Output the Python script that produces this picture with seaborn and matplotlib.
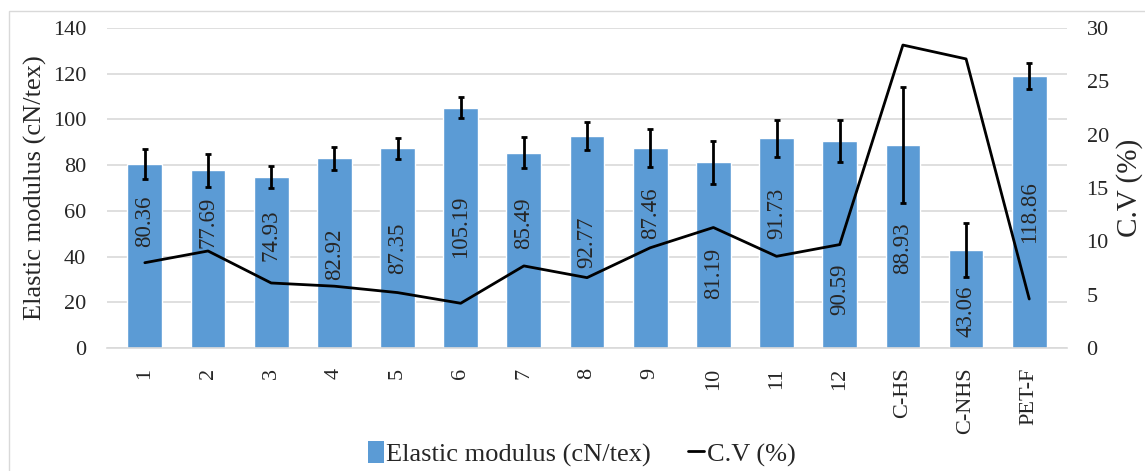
import numpy as np
import pandas as pd
import matplotlib
matplotlib.use("Agg")
import matplotlib.pyplot as plt
import seaborn as sns
from matplotlib.patches import Patch, Rectangle
from matplotlib.lines import Line2D

# -------------------------
# Data
# -------------------------
samples = ["1", "2", "3", "4", "5", "6", "7", "8", "9", "10", "11", "12",
           "C-HS", "C-NHS", "PET-F"]
modulus = [80.36, 77.69, 74.93, 82.92, 87.35, 105.19, 85.49, 92.77, 87.46,
           81.19, 91.73, 90.59, 88.93, 43.06, 118.86]
modulus_err = [6.5, 7.3, 4.8, 5.0, 4.7, 4.6, 6.9, 6.3, 8.2, 9.3, 8.0, 9.0,
               25.4, 11.8, 5.7]
cv = [8.0, 9.1, 6.1, 5.8, 5.2, 4.2, 7.7, 6.6, 9.4, 11.3, 8.6, 9.7,
      28.4, 27.1, 4.6]

# where the value labels sit inside the bars (hand placed in the original)
label_y = [55.6, 55.1, 49.4, 41.1, 43.7, 52.9, 54.7, 46.4, 59.1, 32.8,
           59.1, 25.8, 43.7, 16.2, 59.5]

df = pd.DataFrame({"sample": samples, "modulus": modulus})

# -------------------------
# Style
# -------------------------
sns.set_style("white")
plt.rcParams["font.family"] = ["Liberation Serif", "DejaVu Serif"]
bar_color = "#5B9BD5"
grid_color = "#D9D9D9"

fig = plt.figure(figsize=(11.45, 4.71), dpi=100)
ax = fig.add_axes([0.0934, 0.261, 0.8386, 0.6796])

# light chart-area border like the original
fig.patches.append(Rectangle((9 / 1145, -0.1), 1.2, 1 - 11 / 471 + 0.1,
                             transform=fig.transFigure, fill=False,
                             edgecolor="#D9D9D9", linewidth=1))

# -------------------------
# Bars + error bars
# -------------------------
sns.barplot(data=df, x="sample", y="modulus", color=bar_color, width=0.55,
            saturation=1, ax=ax, zorder=2)
pos = np.arange(len(samples))
ax.errorbar(pos, modulus, yerr=modulus_err, fmt="none", ecolor="black",
            elinewidth=2, capsize=2, capthick=2, zorder=3)

for x, v, ly in zip(pos, modulus, label_y):
    ax.text(x, ly, f"{v:.2f}", rotation=90, ha="center", va="center",
            fontsize=16.5, zorder=4)

ax.set_ylim(0, 140)
ax.set_yticks(range(0, 141, 20))
ax.set_xlim(-0.6, len(samples) - 0.4)
ax.yaxis.grid(True, color=grid_color, linewidth=1.2)
ax.set_axisbelow(True)
for s in ["top", "left", "right"]:
    ax.spines[s].set_visible(False)
ax.spines["bottom"].set_color(grid_color)
ax.spines["bottom"].set_linewidth(1.2)
ax.tick_params(axis="y", length=0, pad=15, labelsize=16)
ax.tick_params(axis="x", length=0, pad=14, labelsize=16, rotation=90)
ax.set_xlabel("")
ax.set_ylabel("Elastic modulus (cN/tex)", fontsize=19, labelpad=4)

# -------------------------
# C.V line on secondary axis
# -------------------------
ax2 = ax.twinx()
sns.lineplot(x=pos, y=cv, color="black", linewidth=2, ax=ax2, sort=False,
             zorder=5)
ax2.set_ylim(0, 30)
ax2.set_yticks(range(0, 31, 5))
for s in ["top", "left", "right", "bottom"]:
    ax2.spines[s].set_visible(False)
ax2.tick_params(axis="y", length=0, pad=14, labelsize=16)
ax2.set_ylabel("C.V (%)", fontsize=21, labelpad=5)

# -------------------------
# Legend
# -------------------------
handles = [Patch(facecolor=bar_color, edgecolor="none"),
           Line2D([0], [0], color="black", linewidth=2)]
fig.legend(handles, ["Elastic modulus (cN/tex)", "C.V (%)"],
           loc="center", bbox_to_anchor=(0.508, 0.036), ncol=2, frameon=False,
           fontsize=19, handlelength=0.6, handleheight=0.9, handletextpad=0.1,
           columnspacing=1.4)

fig.savefig("out.png", dpi=100)
